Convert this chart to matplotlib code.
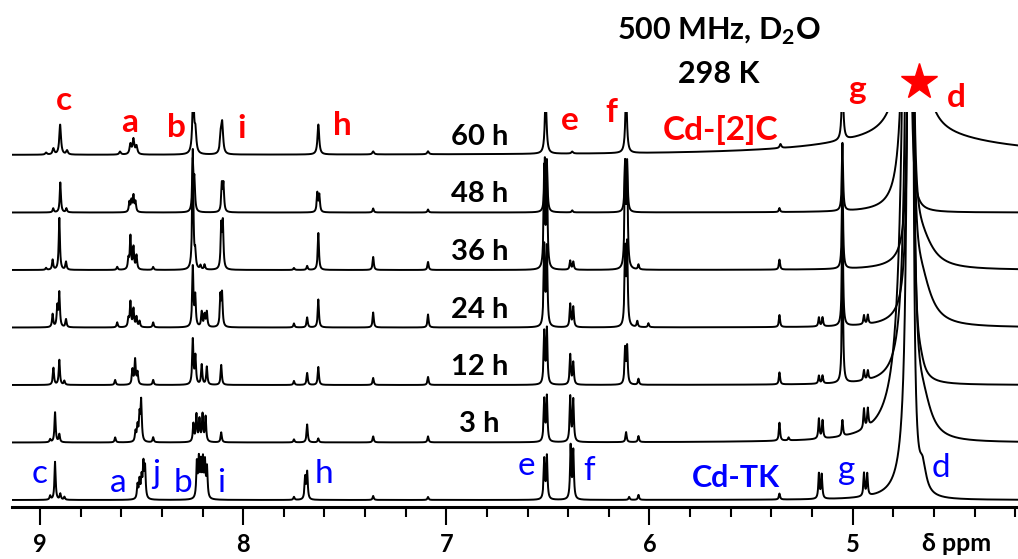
import numpy as np
import matplotlib.pyplot as plt
from matplotlib.ticker import MultipleLocator

plt.rcParams['font.family'] = ['Lato', 'DejaVu Sans']
plt.rcParams['mathtext.fontset'] = 'custom'
plt.rcParams['mathtext.rm'] = 'Lato'
plt.rcParams['mathtext.bf'] = 'Lato:bold'

# traces from bottom (Cd-TK) to top (60 h)
times = ["", "3 h", "12 h", "24 h", "36 h", "48 h", "60 h"]

# peak lists: (ppm, height)
peaks_tk = [(8.95, 4), (8.926, 38), (8.90, 6), (8.88, 3),
            (8.52, 14), (8.51, 18), (8.50, 20), (8.491, 33), (8.483, 30),
            (8.228, 35), (8.218, 37), (8.208, 33), (8.198, 36), (8.188, 34), (8.178, 30),
            (7.695, 22), (7.685, 27), (7.75, 3), (7.36, 4), (7.09, 3),
            (6.518, 40), (6.505, 43), (6.388, 53), (6.375, 48), (6.054, 5), (6.10, 3),
            (5.36, 6), (5.166, 25), (5.152, 24), (4.944, 23), (4.928, 22)]
peaks_3h = [(8.926, 30), (8.905, 8), (8.95, 3),
            (8.53, 10), (8.52, 15), (8.51, 25), (8.502, 40), (8.63, 5), (8.443, 5),
            (8.245, 18), (8.23, 27), (8.215, 22), (8.20, 27), (8.185, 25), (8.108, 10),
            (7.685, 18), (7.63, 4), (7.75, 3), (7.36, 6), (7.09, 6),
            (6.518, 42), (6.505, 45), (6.39, 45), (6.375, 42), (6.115, 10), (6.054, 6),
            (5.36, 18), (5.315, 3), (5.166, 20), (5.148, 18), (5.05, 16), (4.944, 20), (4.925, 18)]
peaks_12h = [(8.934, 17), (8.905, 25), (8.88, 4),
             (8.545, 15), (8.532, 25), (8.52, 12), (8.63, 5), (8.443, 5),
             (8.248, 45), (8.235, 28), (8.204, 20), (8.179, 18), (8.108, 20),
             (7.63, 18), (7.685, 12), (7.75, 4), (7.36, 7), (7.09, 8),
             (6.518, 52), (6.505, 55), (6.39, 30), (6.375, 22), (6.12, 35), (6.11, 37), (6.054, 6),
             (5.36, 12), (5.166, 8), (5.148, 8), (5.05, 130), (4.944, 10), (4.925, 9)]
peaks_24h = [(8.938, 13), (8.915, 20), (8.905, 34), (8.872, 8),
             (8.565, 8), (8.555, 25), (8.54, 18), (8.525, 10), (8.51, 6), (8.62, 5), (8.443, 5),
             (8.248, 60), (8.236, 30), (8.204, 15), (8.19, 12), (8.179, 15), (8.112, 30), (8.104, 32),
             (7.63, 28), (7.685, 10), (7.75, 4), (7.36, 15), (7.09, 13),
             (6.518, 80), (6.505, 78), (6.39, 23), (6.375, 20), (6.12, 75), (6.11, 80), (6.06, 6), (6.005, 4),
             (5.36, 12), (5.166, 9), (5.148, 9), (5.05, 110), (4.944, 9), (4.925, 9)]
peaks_36h = [(8.938, 10), (8.905, 52), (8.872, 8), (8.97, 2),
             (8.565, 10), (8.555, 33), (8.54, 22), (8.525, 14), (8.62, 3), (8.443, 3),
             (8.248, 120), (8.236, 15), (8.21, 4), (8.19, 5), (8.108, 42), (8.100, 45),
             (7.63, 37), (7.685, 4), (7.75, 2), (7.36, 13), (7.09, 8),
             (6.518, 100), (6.505, 100), (6.39, 9), (6.375, 8), (6.12, 100), (6.11, 100), (6.054, 5),
             (5.36, 10), (5.05, 90)]
peaks_48h = [(8.935, 4), (8.90, 30), (8.87, 4),
             (8.56, 10), (8.55, 11), (8.54, 16), (8.53, 10),
             (8.248, 50), (8.24, 30), (8.105, 27), (8.097, 27),
             (7.635, 19), (7.625, 17), (7.36, 4), (7.09, 3),
             (6.515, 50), (6.505, 48), (6.38, 2), (6.12, 48), (6.11, 46),
             (5.36, 4), (5.05, 68)]
peaks_60h = [(8.97, 2), (8.934, 6), (8.901, 30), (8.867, 4),
             (8.606, 3), (8.555, 10), (8.54, 15), (8.525, 8),
             (8.246, 60), (8.235, 20), (8.103, 28), (8.11, 18),
             (7.63, 30), (7.36, 3), (7.09, 3),
             (6.511, 60), (6.38, 2), (6.115, 60),
             (5.355, 4), (5.05, 60)]
traces = [peaks_tk, peaks_3h, peaks_12h, peaks_24h, peaks_36h, peaks_48h, peaks_60h]
line_w = [0.0035, 0.0035, 0.0035, 0.0035, 0.0035, 0.0035, 0.005]

# HOD solvent peak (asymmetric), d shoulder and broad hump
hod_center = [4.712, 4.715, 4.715, 4.715, 4.715, 4.725, 4.71]
hod_amp = [3000, 3000, 3000, 3000, 3000, 3000, 3000]
hod_wl = [0.008, 0.015, 0.009, 0.0045, 0.004, 0.008, 0.011]
hod_wr = [0.0045, 0.006, 0.005, 0.0047, 0.0045, 0.0035, 0.011]
d_center = [4.655, 4.655, 4.665, 4.665, 4.665, 4.665, 4.665]
d_amp = [25, 35, 8, 45, 30, 0, 0]
d_width = [0.02, 0.05, 0.02, 0.06, 0.07, 0.05, 0.05]
broad_amp = [0, 0, 0, 0, 0, 0, 19]
broad_width = [0.45, 0.45, 0.45, 0.45, 0.45, 0.45, 0.45]

ppm = np.linspace(4.18, 9.14, 14000)


def lor(x, c, h, w):
    return h / (1 + ((x - c) / w) ** 2)


fig = plt.figure(figsize=(10.18, 5.59), dpi=100)
ax = fig.add_axes([12 / 1018, 1 - 507 / 559, 1 - 12 / 1018, 395 / 559])

step = 57.5
for k, pk in enumerate(traces):
    y = np.zeros_like(ppm)
    for c, h in pk:
        y += lor(ppm, c, h, line_w[k])
    w = np.where(ppm > hod_center[k], hod_wl[k], hod_wr[k])
    y += lor(ppm, hod_center[k], hod_amp[k], w)
    y += lor(ppm, d_center[k], d_amp[k], d_width[k])
    y += lor(ppm, 4.70, broad_amp[k], broad_width[k])
    ax.plot(ppm, y + k * step, color='k', lw=1.4)
    if times[k]:
        ax.text(6.837, k * step + 10, times[k], fontsize=21, fontweight='bold',
                ha='center', va='baseline')

ax.set_xlim(9.138, 4.186)
ax.set_ylim(-7, 388)
for s in ['left', 'right', 'top']:
    ax.spines[s].set_visible(False)
ax.spines['bottom'].set_linewidth(2.2)
ax.set_yticks([])
ax.set_xticks([9, 8, 7, 6, 5])
ax.set_xticklabels(['9', '8', '7', '6', '5'], fontweight='bold')
ax.xaxis.set_minor_locator(MultipleLocator(0.2))
ax.tick_params(axis='x', which='major', length=13, width=1.5, pad=6, labelsize=17)
ax.tick_params(axis='x', which='minor', length=7, width=1.5)
ax.text(4.486, -51, 'δ ppm', fontsize=18, fontweight='bold', ha='center', va='baseline')

# red labels (Cd-[2]C, top)
red = '#ff0000'
for s, x, y in [('c', 8.882, 390), ('a', 8.557, 368), ('b', 8.330, 363), ('i', 8.010, 362),
                ('h', 7.512, 365), ('e', 6.394, 370), ('f', 6.187, 378), ('Cd-[2]C', 5.650, 360),
                ('g', 4.980, 401), ('d', 4.488, 393)]:
    ax.text(x, y, s, color=red, fontsize=24, fontweight='bold', ha='center', va='baseline')
ax.plot([4.675], [418], marker='*', ms=27, color=red, clip_on=False)

# blue labels (Cd-TK, bottom)
blue = '#0000ff'
for s, x, y in [('c', 9.002, 17), ('a', 8.616, 8), ('j', 8.429, 17), ('b', 8.296, 8),
                ('i', 8.108, 8), ('h', 7.601, 17), ('e', 6.606, 25), ('f', 6.296, 20),
                ('g', 5.030, 21), ('d', 4.567, 23)]:
    ax.text(x, y, s, color=blue, fontsize=24, ha='center', va='baseline')
ax.text(5.576, 13, 'Cd-TK', color=blue, fontsize=22, fontweight='bold', ha='center', va='baseline')

ax.text(5.658, 460, '500 MHz, D$_\\mathbf{2}$O', fontsize=22, fontweight='bold',
        ha='center', va='baseline')
ax.text(5.660, 417, '298 K', fontsize=22, fontweight='bold', ha='center', va='baseline')

fig.savefig('out.png', dpi=100)
